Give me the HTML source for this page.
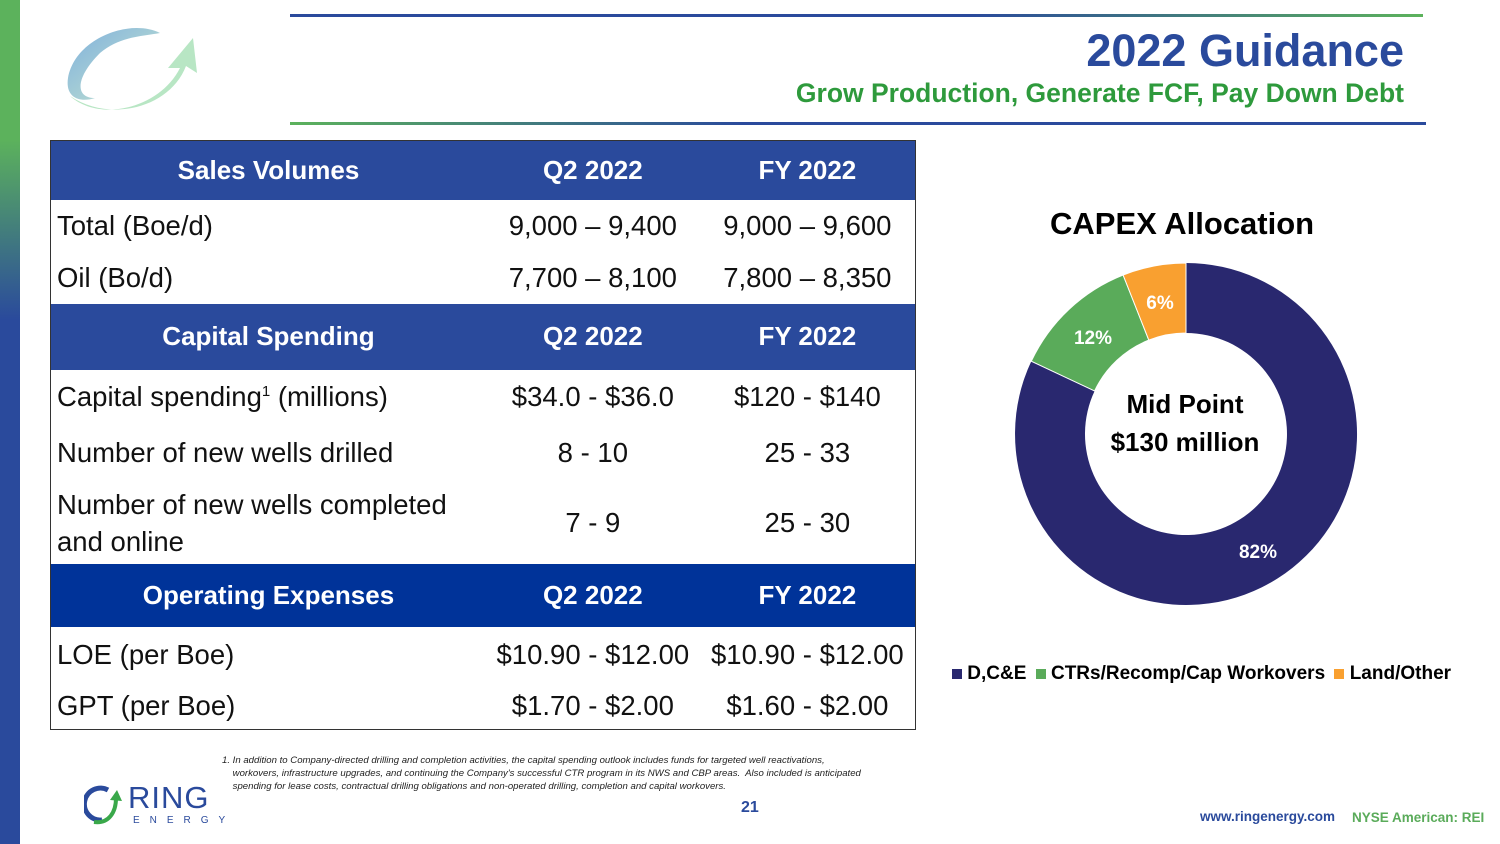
<!DOCTYPE html>
<html><head><meta charset="utf-8"><style>
*{margin:0;padding:0;box-sizing:border-box}
body{width:1500px;height:844px;position:relative;background:#fff;font-family:"Liberation Sans",sans-serif;overflow:hidden}
.a{position:absolute;white-space:nowrap}
.lbar{position:absolute;left:0;top:0;width:20px;height:844px;background:linear-gradient(#5cb25c 0,#5cb25c 140px,#2a4a9c 320px,#2a4a9c 100%)}
table{position:absolute;left:50px;top:140px;width:866px;border-collapse:collapse;border:1px solid #333}
td{font-size:27.5px;color:#111;padding:0 6px}
tr.h td,tr.h2 td{font-size:26px}
tr.h td{background:#2a4a9c;color:#fff;font-weight:bold;text-align:center}
tr.h2 td{background:#003399;color:#fff;font-weight:bold;text-align:center}
td.c{text-align:center}
</style></head><body>
<div class="lbar"></div>
<svg class="a" style="left:60px;top:18px" width="145" height="100" viewBox="0 0 145 100">
<defs><linearGradient id="g1" x1="0" y1="0" x2="1" y2="1"><stop offset="0" stop-color="#7fb0dc"/><stop offset="1" stop-color="#c8e8d0"/></linearGradient></defs>
<path d="M100 15 C70 0 15 20 8 60 C5 80 20 85 35 80 C15 80 15 60 40 35 C60 18 85 18 100 15Z" fill="url(#g1)"/>
<path d="M10 78 C40 105 100 90 120 50 L108 50 L133 20 L137 55 L126 48 C110 90 50 105 10 78Z" fill="#b8e6c4"/>
</svg>
<div class="a" style="left:290px;top:14px;width:1133px;height:3px;background:linear-gradient(90deg,#2a4a9c,#2a4a9c 60%,#5cb25c)"></div>
<div class="a" style="left:290px;top:122px;width:1136px;height:3px;background:linear-gradient(90deg,#5cb25c,#2a4a9c 40%,#2a4a9c)"></div>
<div class="a" style="right:96px;top:25px;font-size:45px;font-weight:bold;color:#2a4a9c">2022 Guidance</div>
<div class="a" style="right:96px;top:78px;font-size:26.5px;font-weight:bold;color:#2e9a3c">Grow Production, Generate FCF, Pay Down Debt</div>
<table>
<colgroup><col style="width:436px"><col style="width:214px"><col style="width:216px"></colgroup>
<tr class="h" style="height:59px"><td>Sales Volumes</td><td>Q2 2022</td><td>FY 2022</td></tr>
<tr style="height:52px"><td>Total (Boe/d)</td><td class="c">9,000 – 9,400</td><td class="c">9,000 – 9,600</td></tr>
<tr style="height:52px"><td>Oil (Bo/d)</td><td class="c">7,700 – 8,100</td><td class="c">7,800 – 8,350</td></tr>
<tr class="h" style="height:66px"><td>Capital Spending</td><td>Q2 2022</td><td>FY 2022</td></tr>
<tr style="height:55px"><td>Capital spending<sup style="font-size:15px">1</sup> (millions)</td><td class="c">$34.0 - $36.0</td><td class="c">$120 - $140</td></tr>
<tr style="height:57px"><td>Number of new wells drilled</td><td class="c">8 - 10</td><td class="c">25 - 33</td></tr>
<tr style="height:82px"><td style="line-height:37px">Number of new wells completed<br>and online</td><td class="c">7 - 9</td><td class="c">25 - 30</td></tr>
<tr class="h2" style="height:63px"><td>Operating Expenses</td><td>Q2 2022</td><td>FY 2022</td></tr>
<tr style="height:56px"><td>LOE (per Boe)</td><td class="c" style="padding:0">$10.90 - $12.00</td><td class="c" style="padding:0">$10.90 - $12.00</td></tr>
<tr style="height:47px"><td>GPT (per Boe)</td><td class="c">$1.70 - $2.00</td><td class="c">$1.60 - $2.00</td></tr>
</table>
<div class="a" style="left:1050px;top:206px;font-size:31px;font-weight:bold;color:#000">CAPEX Allocation</div>
<svg class="a" style="left:0;top:0" width="1500" height="844">
<path d="M1186 263 A171 171 0 1 1 1031.3 361.2 L1094.6 391 A101 101 0 1 0 1186 333Z" fill="#29286f"/>
<path d="M1031.3 361.2 A171 171 0 0 1 1123.1 275 L1148.8 340.1 A101 101 0 0 0 1094.6 391Z" fill="#5aab5a" stroke="#fff" stroke-width="1"/>
<path d="M1123.1 275 A171 171 0 0 1 1186 263 L1186 333 A101 101 0 0 0 1148.8 340.1Z" fill="#f9a030" stroke="#fff" stroke-width="1"/>
<g font-family="Liberation Sans" font-weight="bold" fill="#fff" font-size="19" text-anchor="middle">
<text x="1160" y="309">6%</text><text x="1093" y="344">12%</text><text x="1258" y="558">82%</text></g>
<g font-family="Liberation Sans" font-weight="bold" fill="#000" font-size="26" text-anchor="middle">
<text x="1185" y="413">Mid Point</text><text x="1185" y="451">$130 million</text></g>
</svg>
<div class="a" style="left:952px;top:663px;font-size:19px;font-weight:bold;color:#000">
<span style="display:inline-block;width:10px;height:10px;background:#29286f"></span> D,C&amp;E
<span style="display:inline-block;width:10px;height:10px;background:#5aab5a;margin-left:4px"></span> CTRs/Recomp/Cap Workovers
<span style="display:inline-block;width:10px;height:10px;background:#f9a030;margin-left:4px"></span> Land/Other</div>
<div class="a" style="left:222px;top:754px;font-size:9.6px;font-style:italic;color:#222;line-height:13px">1. In addition to Company-directed drilling and completion activities, the capital spending outlook includes funds for targeted well reactivations,<br>&nbsp;&nbsp;&nbsp;&nbsp;workovers, infrastructure upgrades, and continuing the Company's successful CTR program in its NWS and CBP areas.&nbsp; Also included is anticipated<br>&nbsp;&nbsp;&nbsp;&nbsp;spending for lease costs, contractual drilling obligations and non-operated drilling, completion and capital workovers.</div>
<div class="a" style="left:741px;top:799px;font-size:16px;font-weight:bold;color:#2a4a9c">21</div>
<svg class="a" style="left:84px;top:784px" width="135" height="45">
<path d="M24 6 A16 16 0 1 0 18 36" fill="none" stroke="#2a4a9c" stroke-width="5"/>
<path d="M10 38 C25 40 32 28 32 14" fill="none" stroke="#3aa84a" stroke-width="4"/>
<path d="M26 16 L33 6 L38 17Z" fill="#3aa84a"/>
</svg>
<div class="a" style="left:128px;top:780px;font-size:31px;color:#2a4a9c;letter-spacing:1px">RING</div>
<div class="a" style="left:133px;top:815px;font-size:10px;color:#2a4a9c;letter-spacing:10px">ENERGY</div>
<div class="a" style="left:1200px;top:809px;font-size:13.5px;font-weight:bold;color:#2a4a9c">www.ringenergy.com</div>
<div class="a" style="left:1352px;top:810px;font-size:13.5px;font-weight:bold;color:#5aab5a">NYSE American: REI</div>
</body></html>
